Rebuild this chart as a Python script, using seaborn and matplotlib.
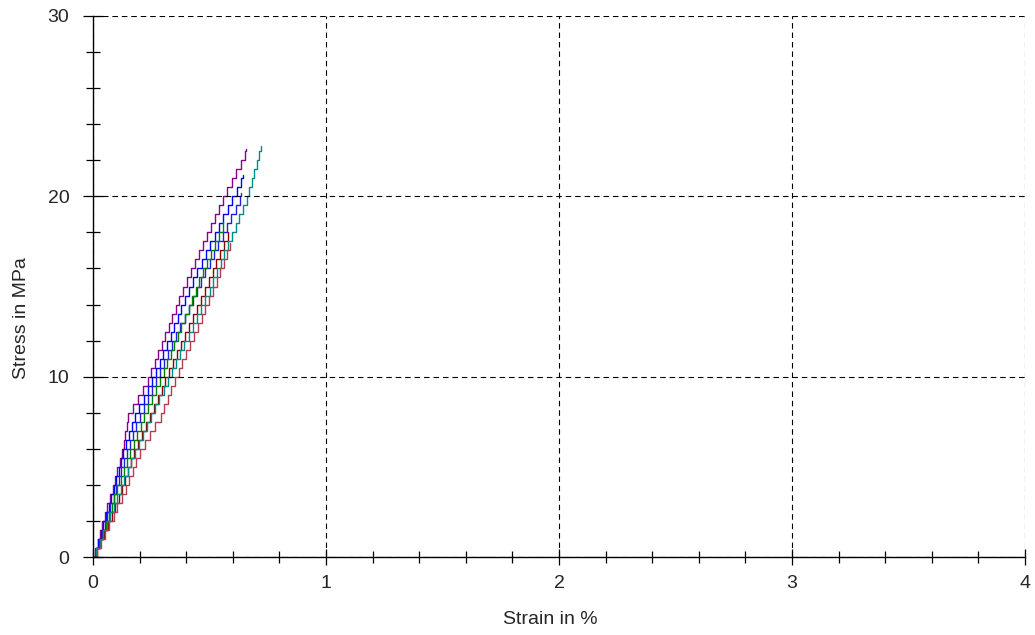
import matplotlib
matplotlib.use("Agg")
import matplotlib.pyplot as plt
import seaborn as sns
import pandas as pd
from matplotlib.ticker import MultipleLocator

# ---- data ----
STRESS_LEVELS = [0.0, 0.5, 1.0, 1.5, 2.0, 2.5, 3.0, 3.5, 4.0, 4.5, 5.0, 5.5, 6.0, 6.5,
                 7.0, 7.5, 8.0, 8.5, 9.0, 9.5, 10.0, 10.5, 11.0, 11.5, 12.0, 12.5,
                 13.0, 13.5, 14.0, 14.5, 15.0, 15.5, 16.0, 16.5, 17.0, 17.5, 18.0,
                 18.5, 19.0, 19.5, 20.0, 20.5, 21.0, 21.5, 22.0, 22.5]

strain_purple = [0.000, 0.010, 0.021, 0.030, 0.040, 0.052, 0.062, 0.074, 0.085, 0.094,
                 0.105, 0.115, 0.125, 0.131, 0.138, 0.144, 0.150, 0.170, 0.193, 0.214,
                 0.236, 0.251, 0.266, 0.281, 0.296, 0.311, 0.326, 0.341, 0.355, 0.370,
                 0.385, 0.402, 0.420, 0.437, 0.454, 0.471, 0.489, 0.506, 0.524, 0.541,
                 0.558, 0.577, 0.596, 0.615, 0.634, 0.653]
strain_blue = [0.000, 0.012, 0.022, 0.034, 0.045, 0.056, 0.068, 0.079, 0.090, 0.100,
               0.110, 0.120, 0.130, 0.143, 0.155, 0.168, 0.180, 0.199, 0.218, 0.236,
               0.255, 0.271, 0.286, 0.302, 0.317, 0.333, 0.348, 0.364, 0.379, 0.395,
               0.410, 0.429, 0.447, 0.466, 0.485, 0.504, 0.522, 0.541, 0.560, 0.578,
               0.597, 0.617, 0.636]
strain_blue2 = [0.000, 0.013, 0.025, 0.038, 0.050, 0.062, 0.075, 0.088, 0.100, 0.111,
                0.122, 0.134, 0.145, 0.159, 0.172, 0.186, 0.200, 0.218, 0.235, 0.253,
                0.270, 0.288, 0.305, 0.323, 0.340, 0.358, 0.375, 0.393, 0.410, 0.428,
                0.445, 0.464, 0.482, 0.501, 0.519, 0.538, 0.556, 0.575, 0.593, 0.612,
                0.630]
strain_green = [0.000, 0.014, 0.028, 0.041, 0.055, 0.067, 0.080, 0.092, 0.105, 0.119,
                0.133, 0.146, 0.160, 0.175, 0.190, 0.205, 0.220, 0.237, 0.254, 0.271,
                0.288, 0.303, 0.318, 0.334, 0.349, 0.364, 0.379, 0.394, 0.410, 0.425,
                0.440, 0.457, 0.473, 0.490, 0.507, 0.523, 0.540, 0.557]
strain_darkred = [0.000, 0.016, 0.032, 0.049, 0.065, 0.080, 0.095, 0.110, 0.125, 0.138,
                  0.150, 0.163, 0.175, 0.193, 0.210, 0.228, 0.245, 0.261, 0.278, 0.294,
                  0.310, 0.327, 0.344, 0.361, 0.378, 0.395, 0.412, 0.429, 0.446, 0.463,
                  0.480, 0.497, 0.513, 0.530, 0.547, 0.563, 0.580]
strain_teal = [0.000, 0.015, 0.030, 0.045, 0.060, 0.075, 0.090, 0.105, 0.120, 0.135,
               0.150, 0.165, 0.180, 0.198, 0.215, 0.233, 0.250, 0.268, 0.285, 0.303,
               0.320, 0.338, 0.356, 0.374, 0.392, 0.410, 0.428, 0.446, 0.464, 0.482,
               0.500, 0.516, 0.532, 0.548, 0.564, 0.580, 0.596, 0.612, 0.628, 0.644,
               0.660, 0.671, 0.681, 0.692, 0.703, 0.714]
strain_lightred = [0.000, 0.018, 0.035, 0.053, 0.070, 0.088, 0.105, 0.123, 0.140, 0.155,
                   0.170, 0.185, 0.200, 0.223, 0.245, 0.268, 0.290, 0.305, 0.320, 0.335,
                   0.350, 0.367, 0.383, 0.400, 0.416, 0.433, 0.449, 0.466, 0.482, 0.499,
                   0.515, 0.531, 0.546, 0.562, 0.577]

CURVES = ["purple", "blue", "blue2", "green", "darkred", "teal", "lightred"]
STRAINS = [strain_purple, strain_blue, strain_blue2, strain_green, strain_darkred,
           strain_teal, strain_lightred]
END_STRAIN = [0.657, 0.644, 0.635, 0.560, 0.580, 0.720, 0.590]
END_STRESS = [22.6, 21.2, 20.2, 18.6, 18.0, 22.8, 17.4]

COLORS = {"purple": "#8B008B", "blue": "#0000FF", "blue2": "#2020E0",
          "green": "#008000", "darkred": "#8B0000", "teal": "#008B8B",
          "lightred": "#B04050"}

X_TICKS = [0, 1, 2, 3, 4]
Y_TICKS = [0, 10, 20, 30]

# ---- build long table ----
rows = []
for name, strains, es, ey in zip(CURVES, STRAINS, END_STRAIN, END_STRESS):
    for i, s in enumerate(strains):
        rows.append((name, s, STRESS_LEVELS[i]))
    rows.append((name, es, ey))
df = pd.DataFrame(rows, columns=["curve", "strain", "stress"])

sns.set_style("white")
plt.rcParams["font.family"] = ["Liberation Sans", "DejaVu Sans"]

fig = plt.figure(figsize=(10.35, 6.35), dpi=100)
ax = fig.add_axes([93 / 1035, 78 / 635, 932 / 1035, 541 / 635])

sns.lineplot(data=df, x="strain", y="stress", hue="curve", palette=COLORS,
             estimator=None, sort=False, units="curve", drawstyle="steps-post",
             linewidth=1.0, legend=False, ax=ax)

ax.set_xlim(0, 4)
ax.set_ylim(0, 30)
ax.set_xticks(X_TICKS)
ax.set_yticks(Y_TICKS)
ax.xaxis.set_minor_locator(MultipleLocator(0.2))
ax.yaxis.set_minor_locator(MultipleLocator(2))

ax.grid(True, which="major", color="black", linestyle=(0, (5, 3.5)), linewidth=0.8)
ax.set_axisbelow(False)
for side in ["top", "right"]:
    ax.spines[side].set_visible(False)
for side in ["left", "bottom"]:
    ax.spines[side].set_color("black")
    ax.spines[side].set_linewidth(1.0)

ax.tick_params(axis="x", which="major", direction="inout", length=12, width=0.9,
               color="black", labelsize=14, pad=7, bottom=True)
ax.tick_params(axis="x", which="minor", direction="inout", length=9, width=0.9,
               color="black", bottom=True)
ax.tick_params(axis="y", which="major", direction="inout", length=14, width=0.9,
               color="black", labelsize=14, pad=10, left=True)
ax.tick_params(axis="y", which="minor", direction="inout", length=10, width=0.9,
               color="black", left=True)

ax.set_xlabel("Strain in %", fontsize=14)
ax.set_ylabel("Stress in MPa", fontsize=14)
ax.xaxis.set_label_coords((550 - 93) / 932, -(620 - 557) / 541)
ax.xaxis.label.set_va("center")
ax.yaxis.set_label_coords(-(93 - 22) / 932, (557 - 318) / 541)
ax.yaxis.label.set_va("center")

fig.savefig("out.png", dpi=100, facecolor="white")
